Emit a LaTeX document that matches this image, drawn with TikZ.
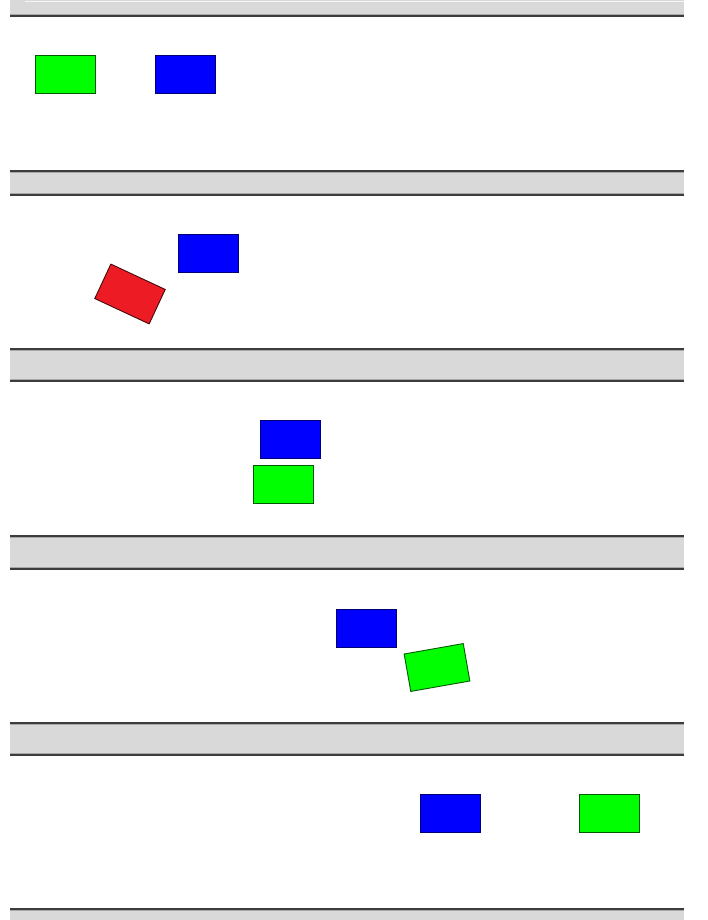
\documentclass[tikz,border=0pt]{standalone}
\usepackage{tikz}
\definecolor{bandgray}{HTML}{D9D9D9}
\definecolor{banddark}{HTML}{3C3C3C}
\definecolor{bandmid}{HTML}{A8A8A8}
\definecolor{cargreen}{HTML}{00FF00}
\definecolor{carblue}{HTML}{0000FF}
\definecolor{carred}{HTML}{ED1C24}
\tikzset{
  car/.style={draw, line width=0.9pt, minimum width=60pt, minimum height=38pt, inner sep=0pt, outer sep=0pt},
  greencar/.style={car, fill=cargreen, draw=cargreen!35!black},
  bluecar/.style={car, fill=carblue, draw=carblue!45!black},
  redcar/.style={car, fill=carred, draw=carred!30!black},
  bandfill/.style={fill=bandgray, draw=none},
  bandedge/.style={draw=banddark, line width=1.6pt},
  bandinner/.style={draw=bandmid, line width=1pt}
}
\newcommand{\myband}[2]{%
  \fill[bandgray] (10,#1) rectangle (684,#2);
  \draw[bandinner] (10,#1+2.2) -- (684,#1+2.2);
  \draw[bandinner] (10,#2-2.2) -- (684,#2-2.2);
  \draw[bandedge] (10,#1+0.8) -- (684,#1+0.8);
  \draw[bandedge] (10,#2-0.8) -- (684,#2-0.8);
}
\begin{document}
\begin{tikzpicture}[x=1pt,y=-1pt]
\useasboundingbox (0,0) rectangle (707,920);
% top band
\fill[bandgray] (10,0) rectangle (684,17);
\draw[white!92!gray, line width=1pt] (25,2) -- (684,2);
\draw[bandinner] (10,14.8) -- (684,14.8);
\draw[bandedge] (10,16.2) -- (684,16.2);
% middle bands
\myband{170}{196}
\myband{348}{382}
\myband{535}{570}
\myband{722}{756}
% bottom band
\fill[bandgray] (10,908) rectangle (684,920);
\draw[bandinner] (10,910.5) -- (684,910.5);
\draw[bandedge] (10,908.8) -- (684,908.8);
% row 1
\node[greencar] (g1) at (65,74) {};
\node[bluecar] (b1) at (185,74) {};
% row 2
\node[bluecar] (b2) at (208,253) {};
\node[redcar, rotate=-25] (r2) at (130,294) {};
% row 3
\node[bluecar] (b3) at (290.5,439.5) {};
\node[greencar] (g3) at (283.5,484) {};
% row 4
\node[bluecar] (b4) at (366,628) {};
\node[greencar, rotate=10] (g4) at (437,667.5) {};
% row 5
\node[bluecar] (b5) at (450.5,813) {};
\node[greencar] (g5) at (609,813.5) {};
\end{tikzpicture}
\end{document}
